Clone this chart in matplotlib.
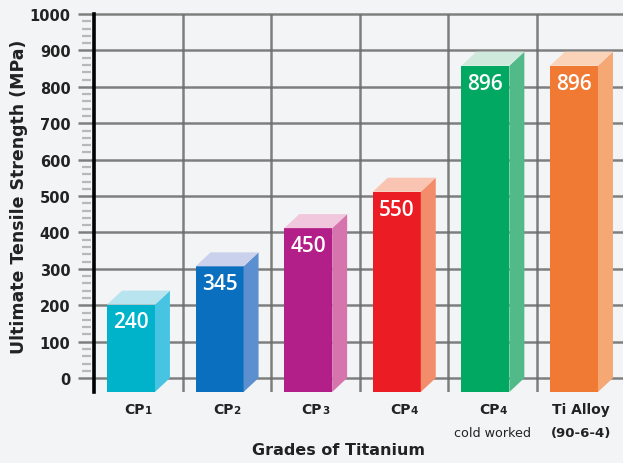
import matplotlib
matplotlib.use("Agg")
import matplotlib.pyplot as plt
from matplotlib.patches import Polygon
from matplotlib.offsetbox import TextArea, HPacker, AnnotationBbox
import matplotlib.transforms as mtransforms

# --- data ---
grades = ["CP", "CP", "CP", "CP", "CP", "Ti Alloy"]
grade_sub = ["1", "2", "3", "4", "4", ""]
grade_note = ["", "", "", "", "cold worked", "(90-6-4)"]
strength = [240, 345, 450, 550, 896, 896]

# front / side / top colours for each bar
front_cols = ["#00b3cb", "#0a6fbe", "#b31f88", "#ec1c24", "#00a862", "#f07a33"]
side_cols = ["#48c4e3", "#5c8fcf", "#d674ad", "#f28c6b", "#52b989", "#f5a774"]
top_cols = ["#b8e4ef", "#c9d1ec", "#f0c7dc", "#f9c4b1", "#cfe9dc", "#fad3b8"]

bg = "#f3f4f6"
grid_col = "#6a6a6a"
txt_col = "#222222"

fig = plt.figure(figsize=(6.23, 4.64), dpi=100, facecolor=bg)
W, H = 623, 464
ax = fig.add_axes([94 / W, (H - 393) / H, (W - 94) / W, (393 - 15) / H])
ax.set_facecolor(bg)

ncat = len(strength)
xmax = (W - 94) / 88.6
ylo = -38
ax.set_xlim(0, xmax)
ax.set_ylim(ylo, 1000)

# 3d depth offsets (data units)
dx = 15 / 88.6
dy = 14 / 0.3642

# grid
for v in range(0, 1001, 100):
    ax.plot([-16 / 88.6, xmax], [v, v], color=grid_col, lw=1.8, alpha=0.85,
            clip_on=False, zorder=1, solid_capstyle="butt")
for i in range(1, ncat):
    ax.plot([i, i], [ylo, 1000], color=grid_col, lw=1.8, alpha=0.85, zorder=1,
            solid_capstyle="butt")

# minor ticks
for v in range(20, 1000, 20):
    if v % 100:
        ax.plot([-12 / 88.6, -3 / 88.6], [v, v], color="#b8b8b8", lw=1.6,
                clip_on=False, zorder=1, solid_capstyle="butt")

for s in ["top", "right", "bottom"]:
    ax.spines[s].set_visible(False)
ax.spines["left"].set_color("black")
ax.spines["left"].set_linewidth(2.6)
ax.spines["left"].set_zorder(5)

ax.set_xticks([])
ax.set_yticks(range(0, 1001, 100))
ax.tick_params(axis="y", length=0, pad=17, labelsize=10.5, labelcolor=txt_col)
for lab in ax.get_yticklabels():
    lab.set_fontweight("bold")

# bars
for i, v in enumerate(strength):
    c = i + 0.5
    x0 = c - 0.353
    x1 = c + 0.188
    yb = ylo
    yt = v + ylo
    front = Polygon([(x0, yb), (x1, yb), (x1, yt), (x0, yt)], closed=True,
                    fc=front_cols[i], ec="none", zorder=3)
    side = Polygon([(x1, yb), (x1 + dx, yb + dy), (x1 + dx, yt + dy), (x1, yt)],
                   closed=True, fc=side_cols[i], ec="none", zorder=3)
    top = Polygon([(x0, yt), (x1, yt), (x1 + dx, yt + dy), (x0 + dx, yt + dy)],
                  closed=True, fc=top_cols[i], ec="none", zorder=3)
    for p in (front, side, top):
        ax.add_patch(p)
    ax.annotate(str(v), xy=((x0 + x1) / 2, yt), xytext=(0, -12.5),
                textcoords="offset points", ha="center", va="center",
                color="white", fontsize=15, fontweight="semibold",
                family=["Open Sans", "DejaVu Sans"], zorder=4)

# category labels
trans = mtransforms.blended_transform_factory(ax.transData, fig.transFigure)
for i in range(ncat):
    c = i + 0.5
    y = 1 - 410 / H
    parts = [TextArea(grades[i], textprops=dict(fontsize=10, fontweight="bold",
                                                color=txt_col))]
    if grade_sub[i]:
        parts.append(TextArea(grade_sub[i],
                              textprops=dict(fontsize=7.5, fontweight="bold",
                                             color=txt_col)))
    box = HPacker(children=parts, align="baseline", pad=0, sep=0)
    ab = AnnotationBbox(box, (c, y), xycoords=trans, frameon=False,
                        box_alignment=(0.5, 0.5), pad=0,
                        annotation_clip=False)
    ax.add_artist(ab)
    if grade_note[i]:
        bold = grade_note[i].startswith("(")
        ax.annotate(grade_note[i], xy=(c, 1 - 434 / H), xycoords=trans,
                    ha="center", va="center",
                    fontsize=9.5 if bold else 9.2,
                    fontweight="bold" if bold else "normal", color=txt_col)

fig.text(338 / W, 1 - 451 / H, "Grades of Titanium", ha="center", va="center",
         fontsize=11.5, fontweight="bold", color=txt_col)
fig.text(19 / W, 1 - 197 / H, "Ultimate Tensile Strength (MPa)", ha="center",
         va="center", rotation=90, fontsize=12.5, fontweight="bold", color=txt_col)

fig.savefig("out.png", dpi=100, facecolor=bg)
